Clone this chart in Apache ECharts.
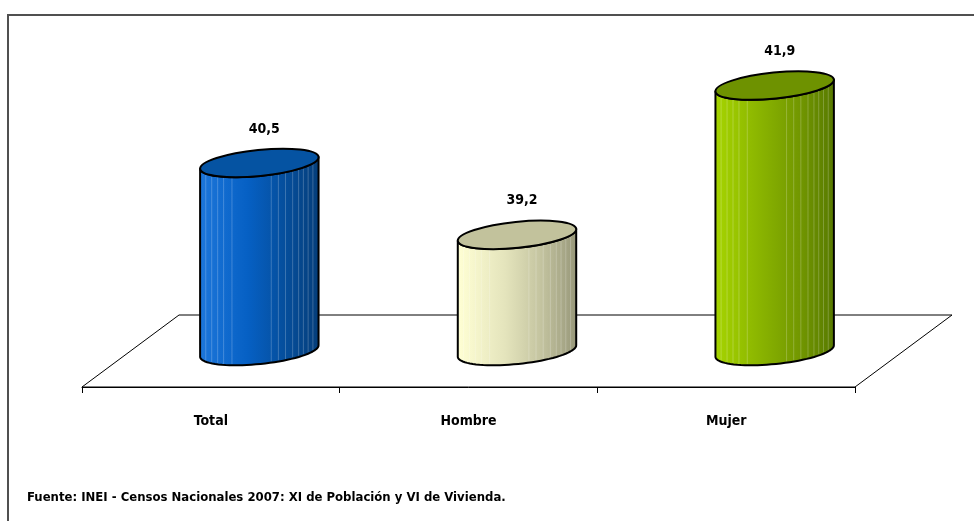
<!DOCTYPE html>
<html>
<head>
    <meta charset="utf-8">
    <title>Edad promedio</title>
    <script src="https://cdn.jsdelivr.net/npm/echarts@6/dist/echarts.min.js"></script>
    <style>
        html, body { margin: 0; padding: 0; background: #fff; }
        #chart { width: 974px; height: 521px; }
    </style>
</head>
<body>
    <div id="chart"></div>

    <script>
        // data
        var categories = ['Total', 'Hombre', 'Mujer'];
        var values = [40.5, 39.2, 41.9];
        var source = 'Fuente: INEI - Censos Nacionales 2007: XI de Población y VI de Vivienda.';

        // cylinder colours: [left, middle, right, top]
        var palette = [
            ['#1c76da', '#0660c4', '#054f9e', '#053e7a', '#0553a2'],
            ['#ffffd4', '#e4e4bc', '#c4c4a0', '#98987a', '#c2c29c'],
            ['#a6d400', '#88b200', '#739800', '#587a00', '#6e9200']
        ];
        var stripes = [0.05, 0.1, 0.15, 0.2, 0.27, 0.6, 0.66, 0.72, 0.78, 0.83, 0.87, 0.91, 0.95];

        var font = '"Liberation Sans Narrow", "DejaVu Sans Condensed", sans-serif';
        var depthX = 97, depthY = -72;
        var tilt = 5.8 * Math.PI / 180;

        function ellPoint(cx, cy, rx, ry, t) {
            return [
                cx + rx * Math.cos(t) * Math.cos(tilt) + ry * Math.sin(t) * Math.sin(tilt),
                cy - rx * Math.cos(t) * Math.sin(tilt) + ry * Math.sin(t) * Math.cos(tilt)
            ];
        }

        function frontY(cy, rx, ry, dx) {
            var k = Math.max(0, 1 - (dx / rx) * (dx / rx));
            return cy + ry * Math.sqrt(k) - dx * Math.tan(tilt);
        }

        function renderFloor(params, api) {
            var cs = params.coordSys;
            var x0 = cs.x, x1 = cs.x + cs.width, y0 = cs.y + cs.height;
            return {
                type: 'polygon',
                shape: { points: [[x0, y0], [x0 + depthX, y0 + depthY], [x1 + depthX, y0 + depthY], [x1, y0]] },
                style: { fill: '#fff', stroke: '#000', lineWidth: 1 },
                silent: true
            };
        }

        function renderCylinder(params, api) {
            var i = api.value(0);
            var v = api.value(1);
            var cs = params.coordSys;
            var band = api.size([1, 0])[0];
            var front = api.coord([i, v]);
            var cx = front[0] + depthX / 2;
            var topY = front[1] + depthY / 2;
            var baseY = cs.y + cs.height + depthY / 2;
            var rx = band * 0.231;
            var ry = 13;
            var c = palette[i];

            var pts = [];
            var n = 40, k;
            for (k = 0; k <= n; k++) pts.push(ellPoint(cx, topY, rx, ry, Math.PI * k / n));
            for (k = n; k >= 0; k--) pts.push(ellPoint(cx, baseY, rx, ry, Math.PI * k / n));

            var children = [{
                type: 'polygon',
                shape: { points: pts },
                style: {
                    fill: new echarts.graphic.LinearGradient(0, 0, 1, 0, [
                        { offset: 0, color: c[0] },
                        { offset: 0.4, color: c[1] },
                        { offset: 0.7, color: c[2] },
                        { offset: 1, color: c[3] }
                    ]),
                    stroke: 'none'
                }
            }];

            stripes.forEach(function (f) {
                var dx = -rx + 2 * rx * f;
                var x = cx + dx;
                children.push({
                    type: 'line',
                    shape: { x1: x, y1: frontY(topY, rx, ry, dx), x2: x, y2: frontY(baseY, rx, ry, dx) - 1 },
                    style: { stroke: 'rgba(255,255,255,0.22)', lineWidth: 1 }
                });
            });

            children.push({
                type: 'polygon',
                shape: { points: pts },
                style: { fill: 'none', stroke: '#000', lineWidth: 2, lineJoin: 'round' }
            });
            children.push({
                type: 'ellipse',
                shape: { cx: cx, cy: topY, rx: rx, ry: ry },
                rotation: tilt,
                originX: cx,
                originY: topY,
                style: { fill: c[4], stroke: '#000', lineWidth: 2 }
            });
            children.push({
                type: 'text',
                style: {
                    x: cx + 5, y: topY - 34,
                    text: String(v).replace('.', ','),
                    align: 'center', verticalAlign: 'middle',
                    font: 'bold 14px ' + font,
                    fill: '#000'
                }
            });
            return { type: 'group', children: children };
        }

        var chart = echarts.init(document.getElementById('chart'));
        chart.setOption({
            animation: false,
            backgroundColor: '#fff',
            graphic: [{
                type: 'rect',
                shape: { x: 8, y: 15, width: 1000, height: 600 },
                style: { fill: 'none', stroke: '#505050', lineWidth: 2 },
                silent: true
            }, {
                type: 'text',
                left: 27,
                top: 491,
                style: { text: source, font: 'bold 13px ' + font, fill: '#000' }
            }],
            grid: { left: 82, right: 119, top: 116, bottom: 134 },
            xAxis: {
                type: 'category',
                data: categories,
                axisLine: { lineStyle: { color: '#000', width: 1 } },
                axisTick: { show: true, length: 6, lineStyle: { color: '#000' } },
                axisLabel: { margin: 27, color: '#000', fontWeight: 'bold', fontSize: 14, fontFamily: font },
                splitLine: { show: false },
                z: 5
            },
            yAxis: {
                type: 'value',
                min: 37.1,
                max: 42,
                show: false,
                splitLine: { show: false }
            },
            series: [{
                type: 'custom',
                renderItem: renderFloor,
                data: [[0, 37.1]],
                z: 1,
                silent: true
            }, {
                type: 'custom',
                renderItem: renderCylinder,
                data: values.map(function (v, i) { return [i, v]; }),
                z: 10,
                silent: true
            }]
        });
    </script>
</body>
</html>
